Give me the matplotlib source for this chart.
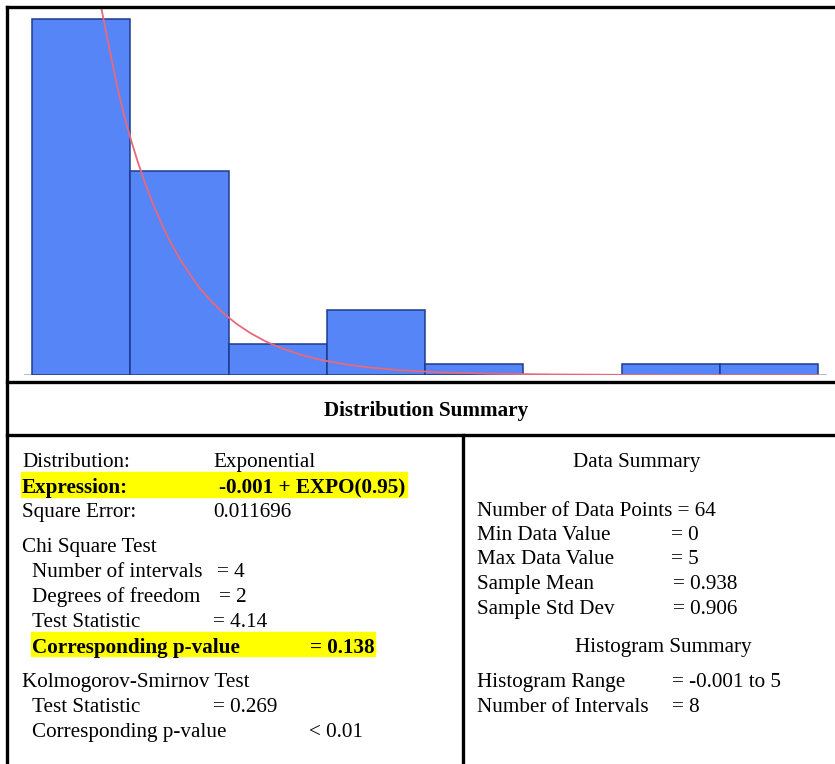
import matplotlib
matplotlib.use("Agg")
import matplotlib.pyplot as plt
from matplotlib.patches import Rectangle
from matplotlib.lines import Line2D

# ---------------- data ----------------
hist_range = (-0.001, 5.0)
n_bins = 8
bar_heights = [0.556, 0.319, 0.049, 0.101, 0.017, 0.0, 0.017, 0.017]

curve_x = [0.400, 0.444, 0.495, 0.540, 0.584, 0.629, 0.673, 0.718, 0.769, 0.820,
           0.877, 0.940, 1.004, 1.068, 1.144, 1.220, 1.297, 1.386, 1.481, 1.577,
           1.704, 1.831, 1.990, 2.149, 2.340, 2.594, 2.912, 3.294, 3.739, 4.248, 5.0]
curve_y = [0.628, 0.568, 0.505, 0.452, 0.406, 0.367, 0.332, 0.300, 0.267, 0.238,
           0.209, 0.181, 0.157, 0.135, 0.114, 0.0958, 0.0805, 0.0658, 0.0530, 0.0426,
           0.0319, 0.0239, 0.0167, 0.0116, 0.0075, 0.0042, 0.0020, 0.0009, 0.0003, 0.0001, 0.0]

title_text = "Distribution Summary"

left_rows = [
    ("Distribution:", "Exponential"),
    ("Expression:", "-0.001 + EXPO(0.95)"),
    ("Square Error:", "0.011696"),
]
chi_title = "Chi Square Test"
chi_rows = [
    ("Number of intervals", "= 4"),
    ("Degrees of freedom", "= 2"),
    ("Test Statistic", "= 4.14"),
    ("Corresponding p-value", "= 0.138"),
]
ks_title = "Kolmogorov-Smirnov Test"
ks_rows = [
    ("Test Statistic", "= 0.269"),
    ("Corresponding p-value", "< 0.01"),
]
data_title = "Data Summary"
data_rows = [
    ("Number of Data Points = 64", ""),
    ("Min Data Value", "= 0"),
    ("Max Data Value", "= 5"),
    ("Sample Mean", "= 0.938"),
    ("Sample Std Dev", "= 0.906"),
]
hist_title = "Histogram Summary"
hist_rows = [
    ("Histogram Range", "= -0.001 to 5"),
    ("Number of Intervals", "= 8"),
]

# ---------------- figure ----------------
W, H = 835, 764
fig = plt.figure(figsize=(W / 100, H / 100), dpi=100)
fig.patch.set_facecolor("white")

# histogram axes (pixel placement)
ax = fig.add_axes([24 / W, (H - 375) / H, (827 - 24) / W, 368 / H])
width = (hist_range[1] - hist_range[0]) / n_bins
lefts = [hist_range[0] + i * width for i in range(n_bins)]
ax.axhline(0, color="#a8a8a8", lw=1.8, zorder=1)
ax.bar(lefts, bar_heights, width=width, align="edge", color="#5585f7",
       edgecolor="#1e3a8e", linewidth=1.1, zorder=2)
ax.plot(curve_x, curve_y, color="#e8697c", lw=1.3, zorder=3,
        solid_joinstyle="round")
ax.set_xlim(-0.052, 5.056)
ax.set_ylim(0, 0.575)
ax.axis("off")

# overlay axes in pixel coordinates for frame + table text
ov = fig.add_axes([0, 0, 1, 1], zorder=5)
ov.set_xlim(0, W)
ov.set_ylim(H, 0)
ov.axis("off")
ov.patch.set_alpha(0)

lw = 2.4
ov.add_line(Line2D([7, W], [7, 7], color="black", lw=lw))
ov.add_line(Line2D([7, 7], [7, H], color="black", lw=lw))
ov.add_line(Line2D([7, W], [382, 382], color="black", lw=lw))
ov.add_line(Line2D([7, W], [435, 435], color="black", lw=lw))
ov.add_line(Line2D([463, 463], [435, H], color="black", lw=lw))

font = "Liberation Serif"
fs = 15.2

def txt(x, y, s, bold=False, ha="left"):
    ov.text(x, y, s, fontsize=fs, family=font, va="baseline", ha=ha,
            fontweight="bold" if bold else "normal", color="black")

# title
txt(426, 416, title_text, bold=True, ha="center")

# highlights
ov.add_patch(Rectangle((21, 472), 386, 25, color="#ffff00", zorder=0))
ov.add_patch(Rectangle((31, 632), 344, 24, color="#ffff00", zorder=0))

# left column
lbase = [467, 493, 517]
for (lab, val), yb, b in zip(left_rows, lbase, [False, True, False]):
    txt(22, yb, lab, bold=b)
    txt(219 if b else 213, yb, val, bold=b)

txt(22, 552, chi_title)
chi_base = [577, 602, 627, 653]
chi_vx = [217, 219, 213, 310]
for i, ((lab, val), yb, vx) in enumerate(zip(chi_rows, chi_base, chi_vx)):
    b = (i == 3)
    txt(32, yb, lab, bold=b)
    txt(vx, yb, val, bold=b)

txt(22, 687, ks_title)
for (lab, val), yb, vx in zip(ks_rows, [712, 737], [213, 309]):
    txt(32, yb, lab)
    txt(vx, yb, val)

# right column
txt(637, 467, data_title, ha="center")
data_base = [516, 540, 564, 589, 614]
data_vx = [0, 671, 671, 673, 673]
for (lab, val), yb, vx in zip(data_rows, data_base, data_vx):
    txt(477, yb, lab)
    if val:
        txt(vx, yb, val)

txt(663, 652, hist_title, ha="center")
for (lab, val), yb in zip(hist_rows, [687, 712]):
    txt(477, yb, lab)
    txt(672, yb, val)

fig.savefig("out.png", dpi=100, facecolor="white")
